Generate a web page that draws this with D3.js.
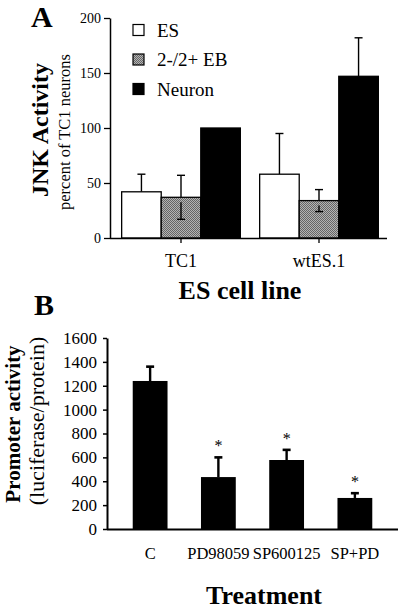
<!DOCTYPE html>
<html><head><meta charset="utf-8">
<script src="https://cdn.jsdelivr.net/npm/d3@7"></script>
<style>
html,body{margin:0;padding:0;background:#fff;}
svg{display:block;font-family:"Liberation Serif","Times New Roman",serif;}
</style></head>
<body>
<svg id="chart" width="400" height="609"></svg>
<script>
// ---------- Panel A data ----------
const cellLines = ["TC1", "wtES.1"];
const seriesNames = ["ES", "2-/2+ EB", "Neuron"];
const esValues = [42, 58];
const esErrors = [16, 37];
const ebValues = [37, 34];
const ebErrors = [20, 10];
const neuronValues = [100, 147];
const neuronErrors = [0, 35];
const ticksA = [0, 50, 100, 150, 200];

// ---------- Panel B data ----------
const treatments = ["C", "PD98059", "SP600125", "SP+PD"];
const promoterValues = [1240, 435, 578, 260];
const promoterErrors = [120, 165, 85, 40];
const significance = ["", "*", "*", "*"];
const ticksB = [0, 200, 400, 600, 800, 1000, 1200, 1400, 1600];

const svg = d3.select("#chart");
const defs = svg.append("defs");
const pat = defs.append("pattern").attr("id", "stipple")
  .attr("width", 2).attr("height", 2).attr("patternUnits", "userSpaceOnUse");
pat.append("rect").attr("width", 2).attr("height", 2).attr("fill", "#b4b4b4");
pat.append("rect").attr("width", 1).attr("height", 1).attr("fill", "#666");
pat.append("rect").attr("x", 1).attr("y", 1).attr("width", 1).attr("height", 1).attr("fill", "#666");

const fills = ["#fff", "url(#stipple)", "#000"];
const bothWays = [false, true, false];

// ================= Panel A =================
const yA = d3.scaleLinear().domain([0, 200]).range([238, 18]);
const x0 = d3.scaleBand().domain(cellLines).range([112, 388]).paddingInner(0.14).paddingOuter(0.07);
const x1 = d3.scaleBand().domain(seriesNames).range([0, x0.bandwidth()]);

const gA = svg.append("g");
const rowsA = [
  {name: seriesNames[0], vals: esValues, errs: esErrors},
  {name: seriesNames[1], vals: ebValues, errs: ebErrors},
  {name: seriesNames[2], vals: neuronValues, errs: neuronErrors}
];
rowsA.forEach((s, si) => {
  cellLines.forEach((c, ci) => {
    const bx = x0(c) + x1(s.name);
    const v = s.vals[ci], e = s.errs[ci];
    const cx = bx + x1.bandwidth() / 2;
    if (e > 0) {
      const yTop = yA(v + e);
      gA.append("line").attr("x1", cx).attr("x2", cx).attr("y1", yTop).attr("y2", yA(v))
        .attr("stroke", "#000").attr("stroke-width", 1.4);
      gA.append("line").attr("x1", cx - 4).attr("x2", cx + 4).attr("y1", yTop).attr("y2", yTop)
        .attr("stroke", "#000").attr("stroke-width", 1.4);
    }
    gA.append("rect").attr("x", bx).attr("y", yA(v))
      .attr("width", x1.bandwidth()).attr("height", yA(0) - yA(v))
      .attr("fill", fills[si]).attr("stroke", "#000").attr("stroke-width", 1.3);
    if (e > 0 && bothWays[si]) {
      const yBot = yA(v - e);
      gA.append("line").attr("x1", cx).attr("x2", cx).attr("y1", yA(v) + 5).attr("y2", yBot)
        .attr("stroke", "#000").attr("stroke-width", 1.4);
      gA.append("line").attr("x1", cx - 4).attr("x2", cx + 4).attr("y1", yBot).attr("y2", yBot)
        .attr("stroke", "#000").attr("stroke-width", 1.4);
    }
  });
});

// axes A
const axA = gA.append("g").attr("transform", "translate(110,0)")
  .call(d3.axisLeft(yA).tickValues(ticksA).tickSize(6).tickSizeOuter(0).tickPadding(3));
axA.select(".domain").attr("stroke-width", 1.5);
axA.selectAll(".tick line").attr("stroke-width", 1.3);
axA.selectAll(".tick text").attr("font-size", 14).attr("font-family", "Liberation Serif").attr("fill", "#000");

const axXA = gA.append("g").attr("transform", "translate(0,238)")
  .call(d3.axisBottom(x0).tickSize(5).tickSizeOuter(0).tickPadding(11));
axXA.select(".domain").attr("d", "M110,0.5H387").attr("stroke-width", 1.5);
axXA.selectAll(".tick line").attr("stroke-width", 1.3);
axXA.selectAll(".tick text").attr("font-size", 18).attr("font-family", "Liberation Serif").attr("fill", "#000");

// legend
seriesNames.forEach((n, i) => {
  const cy = 30 + i * 29.5;
  gA.append("rect").attr("x", 133).attr("y", cy - 5.5).attr("width", 11).attr("height", 11)
    .attr("fill", fills[i]).attr("stroke", "#000").attr("stroke-width", 1.2);
  gA.append("text").attr("x", 157).attr("y", cy + 6.5).attr("font-size", 19).text(n);
});

// titles A
svg.append("text").attr("x", 31).attr("y", 27).attr("font-size", 30).attr("font-weight", "bold").text("A");
svg.append("text").attr("transform", "translate(48,130) rotate(-90)").attr("text-anchor", "middle")
  .attr("font-size", 24).attr("font-weight", "bold").text("JNK Activity");
svg.append("text").attr("transform", "translate(70,132) rotate(-90)").attr("text-anchor", "middle")
  .attr("font-size", 16.5).text("percent of TC1 neurons");
svg.append("text").attr("x", 240).attr("y", 299).attr("text-anchor", "middle")
  .attr("font-size", 26).attr("font-weight", "bold").text("ES cell line");

// ================= Panel B =================
const yB = d3.scaleLinear().domain([0, 1600]).range([529, 338]);
const xB = d3.scaleBand().domain(treatments).range([116, 389]).paddingInner(0.49).paddingOuter(0.245);
const gB = svg.append("g");

treatments.forEach((t, i) => {
  const v = promoterValues[i], e = promoterErrors[i];
  const cx = xB(t) + xB.bandwidth() / 2;
  const yTop = yB(v + e);
  gB.append("line").attr("x1", cx).attr("x2", cx).attr("y1", yTop).attr("y2", yB(v))
    .attr("stroke", "#000").attr("stroke-width", 2.4);
  gB.append("line").attr("x1", cx - 4).attr("x2", cx + 4).attr("y1", yTop).attr("y2", yTop)
    .attr("stroke", "#000").attr("stroke-width", 2.6);
  gB.append("rect").attr("x", xB(t)).attr("y", yB(v))
    .attr("width", xB.bandwidth()).attr("height", yB(0) - yB(v)).attr("fill", "#000");
  if (significance[i]) {
    gB.append("text").attr("x", cx).attr("y", yTop - 6).attr("text-anchor", "middle")
      .attr("font-size", 16).text(significance[i]);
  }
});

const axB = gB.append("g").attr("transform", "translate(107,0)")
  .call(d3.axisLeft(yB).tickValues(ticksB).tickFormat(d3.format("d")).tickSize(4).tickSizeOuter(0).tickPadding(6));
axB.select(".domain").attr("stroke-width", 2);
axB.selectAll(".tick line").attr("stroke-width", 1.5);
axB.selectAll(".tick text").attr("font-size", 17).attr("font-family", "Liberation Serif").attr("fill", "#000");

const axXB = gB.append("g").attr("transform", "translate(0,529)")
  .call(d3.axisBottom(xB).tickSize(0).tickSizeOuter(0).tickPadding(18));
axXB.select(".domain").attr("d", "M107,0.5H398").attr("stroke-width", 2);
axXB.selectAll(".tick text").attr("font-size", 16.5).attr("font-family", "Liberation Serif").attr("fill", "#000");

svg.append("text").attr("x", 34).attr("y", 315).attr("font-size", 30).attr("font-weight", "bold").text("B");
svg.append("text").attr("transform", "translate(20,424) rotate(-90)").attr("text-anchor", "middle")
  .attr("font-size", 21).attr("font-weight", "bold").text("Promoter activity");
svg.append("text").attr("transform", "translate(44,421) rotate(-90)").attr("text-anchor", "middle")
  .attr("font-size", 22).text("(luciferase/protein)");
svg.append("text").attr("x", 264).attr("y", 604).attr("text-anchor", "middle")
  .attr("font-size", 26).attr("font-weight", "bold").text("Treatment");
</script>
</body></html>
